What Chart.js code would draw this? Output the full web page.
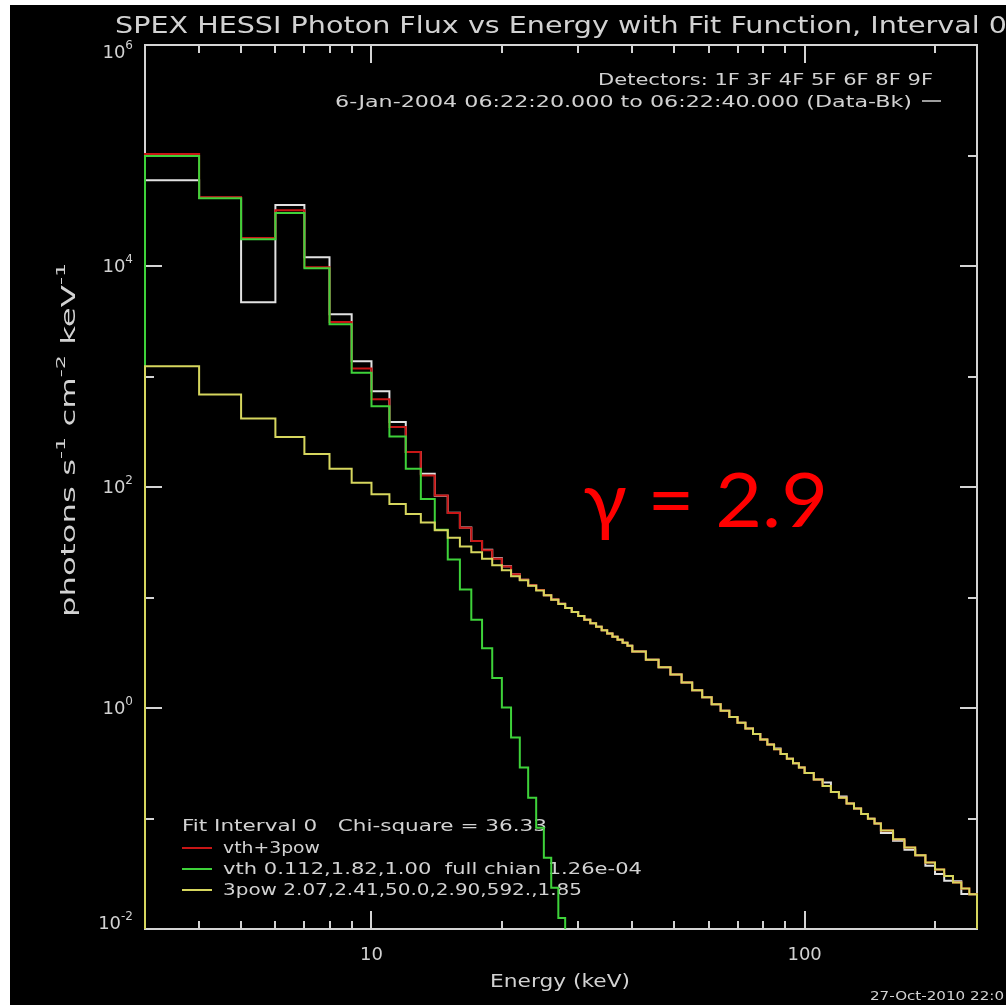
<!DOCTYPE html>
<html>
<head>
<meta charset="utf-8">
<title>SPEX HESSI Photon Flux vs Energy</title>
<script src="https://cdn.jsdelivr.net/npm/chart.js@4.4.1/dist/chart.umd.min.js"></script>
<style>
  html, body { margin: 0; padding: 0; background: #ffffff; overflow: hidden; }
  canvas { display: block; }
</style>
</head>
<body>
<canvas id="spectrum" width="1006" height="1005"></canvas>
<script>
// Energy bin edges (keV): 1 keV to 40, 3 keV to 100, 5 keV to 150, 10 keV to 250
const binEdges = [
  3, 4, 5, 6, 7, 8, 9, 10, 11, 12, 13, 14, 15, 16, 17, 18, 19, 20, 21, 22,
  23, 24, 25, 26, 27, 28, 29, 30, 31, 32, 33, 34, 35, 36, 37, 38, 39, 40,
  43, 46, 49, 52, 55, 58, 61, 64, 67, 70, 73, 76, 79, 82, 85, 88, 91, 94, 97, 100,
  105, 110, 115, 120, 125, 130, 135, 140, 145, 150,
  160, 170, 180, 190, 200, 210, 220, 230, 240, 250
];

// Observed photon flux, data minus background (photons s^-1 cm^-2 keV^-1)
const dataFlux = [
  59800, 41500, 4700, 35600, 12000, 3660, 1375, 735, 387, 207,
  132, 83.3, 58.5, 43.0, 32.4, 27.0, 22.7, 19.2, 16.2, 14.5,
  12.9, 11.7, 10.5, 9.58, 8.76, 8.04, 7.39, 6.81, 6.30, 5.85,
  5.44, 5.06, 4.73, 4.42, 4.14, 3.89, 3.65,
  3.24, 2.74, 2.34, 2.01, 1.70, 1.45, 1.25, 1.08, 0.946, 0.831,
  0.734, 0.651, 0.581, 0.520, 0.468, 0.431, 0.383, 0.348, 0.317, 0.290,
  0.258, 0.225, 0.212, 0.174, 0.158, 0.137, 0.123, 0.110, 0.0993, 0.0899,
  0.0738, 0.0630, 0.0521, 0.0466, 0.0374, 0.0314, 0.0274, 0.0270, 0.0207, 0.0206
];

// Total fit: vth+3pow
const totalModel = [
  103000, 41800, 17900, 32000, 9750, 3120, 1180, 621, 349, 207,
  127, 83.9, 58.1, 42.8, 32.4, 26.7, 22.4, 19.1, 16.2, 14.5,
  12.9, 11.7, 10.5, 9.58, 8.76, 8.04, 7.39, 6.81, 6.30, 5.85,
  5.44, 5.06, 4.73, 4.42, 4.14, 3.89, 3.65,
  3.24, 2.74, 2.34, 2.01, 1.70, 1.45, 1.25, 1.08, 0.946, 0.831,
  0.734, 0.651, 0.581, 0.520, 0.468, 0.423, 0.383, 0.348, 0.317, 0.290,
  0.258, 0.225, 0.197, 0.174, 0.154, 0.137, 0.123, 0.110, 0.0993, 0.0899,
  0.0778, 0.0649, 0.0547, 0.0466, 0.0400, 0.0346, 0.0301, 0.0264, 0.0233, 0.0206
];

// Thermal component: vth (falls below the plot near 28 keV)
const thermalModel = [
  98900, 41100, 17500, 30100, 9550, 2970, 1083, 537, 287, 146,
  78, 41, 22.1, 11.8, 6.28, 3.47, 1.87, 1.01, 0.54, 0.289,
  0.154, 0.0826, 0.0441, 0.0236, 0.0126, 0.0067, 0.0036
];

// Broken power-law component: 3pow
const powerModel = [
  1236, 686, 416, 283, 199, 146, 109, 86, 70, 57,
  47.8, 40.6, 34.8, 29.0, 25.7, 22.4, 19.6, 17.6, 15.6, 14.3,
  12.8, 11.6, 10.5, 9.56, 8.75, 8.03, 7.39, 6.81, 6.30, 5.85,
  5.44, 5.06, 4.73, 4.42, 4.14, 3.89, 3.65,
  3.24, 2.74, 2.34, 2.01, 1.70, 1.45, 1.25, 1.08, 0.946, 0.831,
  0.734, 0.651, 0.581, 0.520, 0.468, 0.423, 0.383, 0.348, 0.317, 0.290,
  0.258, 0.225, 0.197, 0.174, 0.154, 0.137, 0.123, 0.110, 0.0993, 0.0899,
  0.0778, 0.0649, 0.0547, 0.0466, 0.0400, 0.0346, 0.0301, 0.0264, 0.0233, 0.0206
];

// Axis ticks
const xTickValues = [10, 100];
const xTickLabels = ['10', '100'];
const xMinorTicks = [4, 5, 6, 7, 8, 9, 20, 30, 40, 50, 60, 70, 80, 90, 200];
const yTickValues = [1e-2, 1e0, 1e2, 1e4, 1e6];
const yTickExponents = ['-2', '0', '2', '4', '6'];
const yMinorTicks = [1e-1, 1e1, 1e3, 1e5];

// Legend / annotation text
const legendLines = [
  'vth+3pow',
  'vth 0.112,1.82,1.00  full chian 1.26e-04',
  '3pow 2.07,2.41,50.0,2.90,592.,1.85'
];

const COLORS = {
  data: '#e2e2e2',
  total: '#c81616',
  thermal: '#3ed23a',
  power: '#d6d65e',
  text: '#d2d2d2',
  axis: '#d4d4d4'
};
const FONT = '"DejaVu Sans", "Liberation Sans", sans-serif';
const FLOOR = 1e-4;

// Histogram outline: rises from below the axis at the first edge, holds each
// bin value across its width, and drops back down after the last bin.
function stairs(values) {
  const pts = [{ x: binEdges[0], y: FLOOR }];
  values.forEach((v, i) => pts.push({ x: binEdges[i], y: v }));
  const n = values.length;
  pts.push({ x: binEdges[n], y: values[n - 1] });
  if (n === binEdges.length - 1) pts.push({ x: binEdges[n], y: FLOOR });
  return pts;
}

function lineSet(label, values, color) {
  return {
    label,
    data: stairs(values),
    borderColor: color,
    backgroundColor: color,
    borderWidth: 2,
    stepped: 'before',
    fill: false,
    pointRadius: 0,
    tension: 0,
    clip: { left: 3, top: 0, right: 3, bottom: 0 }
  };
}

// Text helper: draws left/center/right aligned text squeezed to a given width
function fitText(ctx, s, x, cy, px, width, align, color, family) {
  ctx.save();
  ctx.font = px + 'px ' + (family || FONT);
  ctx.fillStyle = color || COLORS.text;
  ctx.textBaseline = 'alphabetic';
  ctx.textAlign = 'left';
  const m = ctx.measureText(s).width;
  const w = width || m;
  const k = w / m;
  const x0 = align === 'center' ? x - w / 2 : align === 'right' ? x - w : x;
  ctx.translate(x0, cy + px * 0.36);
  ctx.scale(k, 1);
  ctx.fillText(s, 0, 0);
  ctx.restore();
}

// Rich text with superscript pieces, drawn at origin along +x
function richText(ctx, parts, px, width, align) {
  const sup = Math.round(px * 0.66);
  let total = 0;
  const widths = parts.map(p => {
    ctx.font = (p.sup ? sup : px) + 'px ' + FONT;
    const w = ctx.measureText(p.t).width;
    total += w;
    return w;
  });
  const k = width ? width / total : 1;
  let x = align === 'center' ? -total * k / 2 : align === 'right' ? -total * k : 0;
  ctx.save();
  ctx.scale(k, 1);
  x = x / k;
  parts.forEach((p, i) => {
    ctx.font = (p.sup ? sup : px) + 'px ' + FONT;
    ctx.fillText(p.t, x, p.sup ? px * 0.36 - px * 0.5 : px * 0.36);
    x += widths[i];
  });
  ctx.restore();
}

const decorations = {
  id: 'decorations',
  beforeDraw(chart) {
    const ctx = chart.ctx;
    ctx.save();
    ctx.fillStyle = '#ffffff';
    ctx.fillRect(0, 0, chart.width, chart.height);
    ctx.fillStyle = '#000000';
    ctx.fillRect(10, 5, chart.width - 10, chart.height - 5);
    ctx.restore();
  },
  beforeDatasetsDraw(chart) {
    const ctx = chart.ctx;
    const a = chart.chartArea;
    const xs = chart.scales.x, ys = chart.scales.y;
    ctx.save();
    ctx.strokeStyle = COLORS.axis;
    ctx.lineWidth = 2;
    ctx.strokeRect(a.left, a.top, a.right - a.left, a.bottom - a.top);

    const vTick = (v, len) => {
      const px = Math.round(xs.getPixelForValue(v));
      ctx.beginPath();
      ctx.moveTo(px, a.bottom); ctx.lineTo(px, a.bottom - len);
      ctx.moveTo(px, a.top); ctx.lineTo(px, a.top + len);
      ctx.stroke();
    };
    const hTick = (v, len) => {
      const py = Math.round(ys.getPixelForValue(v));
      ctx.beginPath();
      ctx.moveTo(a.left, py); ctx.lineTo(a.left + len, py);
      ctx.moveTo(a.right, py); ctx.lineTo(a.right - len, py);
      ctx.stroke();
    };
    xMinorTicks.forEach(v => vTick(v, 8));
    xTickValues.forEach(v => vTick(v, 18));
    yMinorTicks.forEach(v => hTick(v, 9));
    yTickValues.forEach(v => hTick(v, 17));

    // x tick labels
    xTickValues.forEach((v, i) => {
      fitText(ctx, xTickLabels[i], xs.getPixelForValue(v), 954, 18, null, 'center');
    });
    // y tick labels: 10 with exponent
    ctx.fillStyle = COLORS.text;
    yTickValues.forEach((v, i) => {
      let cy = ys.getPixelForValue(v);
      if (i === yTickValues.length - 1) cy += 7;
      if (i === 0) cy -= 6;
      ctx.save();
      ctx.translate(133, cy);
      richText(ctx, [{ t: '10' }, { t: yTickExponents[i], sup: true }], 18, null, 'right');
      ctx.restore();
    });

    // axis titles
    fitText(ctx, 'Energy (keV)', 560, 981, 18, 140, 'center');
    ctx.save();
    ctx.fillStyle = COLORS.text;
    ctx.translate(68, 440);
    ctx.rotate(-Math.PI / 2);
    richText(ctx, [
      { t: 'photons s' }, { t: '-1', sup: true },
      { t: ' cm' }, { t: '-2', sup: true },
      { t: ' keV' }, { t: '-1', sup: true }
    ], 19, 354, 'center');
    ctx.restore();

    // title and header
    fitText(ctx, 'SPEX HESSI Photon Flux vs Energy with Fit Function, Interval 0', 115, 25, 23, 892, 'left');
    fitText(ctx, 'Detectors: 1F 3F 4F 5F 6F 8F 9F', 933, 80, 15, 335, 'right');
    fitText(ctx, '6-Jan-2004 06:22:20.000 to 06:22:40.000 (Data-Bk)', 335, 102, 15, 577, 'left');
    ctx.strokeStyle = COLORS.text;
    ctx.lineWidth = 1.5;
    ctx.beginPath(); ctx.moveTo(922, 101); ctx.lineTo(941, 101); ctx.stroke();

    // legend block
    fitText(ctx, 'Fit Interval 0   Chi-square = 36.33', 182, 826, 15, 365, 'left');
    const legendColors = [COLORS.total, COLORS.thermal, COLORS.power];
    const legendY = [848, 869, 890];
    const legendW = [97, 419, 359];
    legendLines.forEach((s, i) => {
      ctx.strokeStyle = legendColors[i];
      ctx.lineWidth = 2;
      ctx.beginPath(); ctx.moveTo(182, legendY[i]); ctx.lineTo(212, legendY[i]); ctx.stroke();
      fitText(ctx, s, 223, legendY[i], 15, legendW[i], 'left');
    });

    // footer stamp
    fitText(ctx, '27-Oct-2010 22:0', 870, 996, 12, 134, 'left');
    ctx.restore();
  },
  afterDatasetsDraw(chart) {
    const ctx = chart.ctx;
    fitText(ctx, 'γ = 2.9', 583, 500, 76, 245, 'left', '#ff0000', 'Lato, "Open Sans", sans-serif');
  }
};

new Chart(document.getElementById('spectrum'), {
  type: 'line',
  data: {
    datasets: [
      lineSet('3pow', powerModel, COLORS.power),
      lineSet('vth', thermalModel, COLORS.thermal),
      lineSet('vth+3pow', totalModel, COLORS.total),
      lineSet('Data-Bk', dataFlux, COLORS.data)
    ]
  },
  options: {
    responsive: false,
    animation: false,
    devicePixelRatio: 1,
    layout: { padding: { left: 145, top: 45, right: 29, bottom: 76 } },
    scales: {
      x: { type: 'logarithmic', min: 3, max: 250, display: false },
      y: { type: 'logarithmic', min: 0.01, max: 1e6, display: false }
    },
    plugins: {
      legend: { display: false },
      tooltip: { enabled: false },
      title: { display: false }
    },
    elements: { point: { radius: 0 }, line: { tension: 0 } }
  },
  plugins: [decorations]
});
</script>
</body>
</html>
